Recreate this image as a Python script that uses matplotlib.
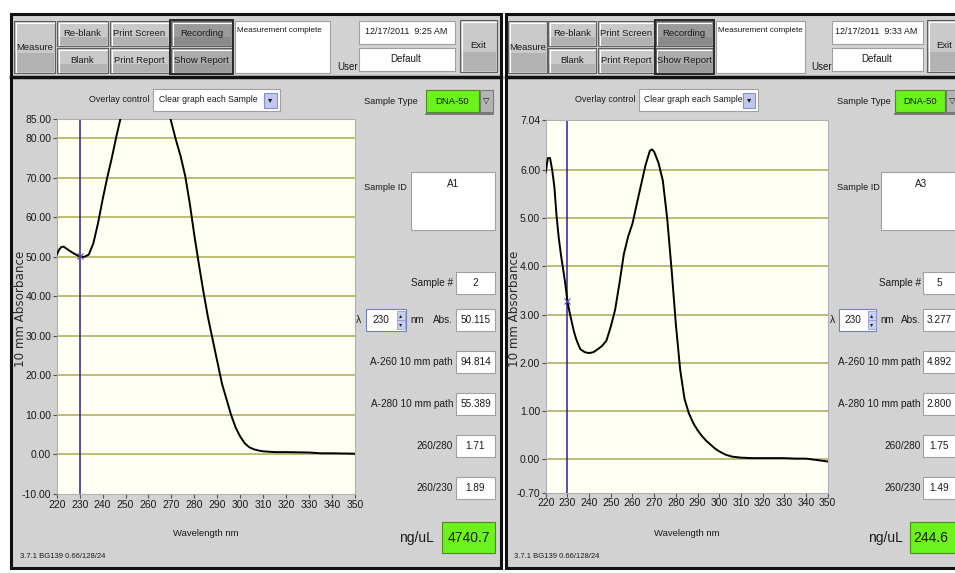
import matplotlib
matplotlib.use('Agg')
import matplotlib.pyplot as plt
from matplotlib.patches import Rectangle

W, H = 955, 573
plt.rcParams['font.family'] = ['Liberation Sans', 'DejaVu Sans']

# spectrum of sample A1 (clipped at 85 by the axis)
wl_a1 = [220, 221, 222, 223, 224, 226, 228, 230, 232, 234, 236, 238, 240, 242, 244, 246, 248,
         250, 252, 255, 258, 260, 263, 266, 268, 270, 272, 274, 276, 278, 280, 282, 284, 286,
         288, 290, 292, 294, 296, 298, 300, 302, 304, 306, 308, 310, 315, 320, 325, 330, 335,
         340, 345, 350]
abs_a1 = [50.5, 51.8, 52.5, 52.6, 52.2, 51.4, 50.7, 50.1, 50.0, 50.6, 53.5, 58.5, 64.5, 70.0,
          75.0, 80.5, 85.5, 89.0, 91.5, 93.8, 94.8, 94.8, 94.0, 91.5, 88.5, 84.0, 79.5, 75.5,
          70.5, 63.5, 55.4, 48.0, 41.0, 34.5, 29.0, 23.5, 18.0, 14.0, 10.0, 6.8, 4.5, 2.8, 1.8,
          1.3, 1.0, 0.8, 0.6, 0.6, 0.55, 0.5, 0.3, 0.3, 0.25, 0.2]

# spectrum of sample A3
wl_a3 = [220, 221, 222, 223, 224, 225, 226, 227, 228, 229, 230, 231, 232, 233, 234, 235, 236,
         238, 240, 242, 244, 246, 248, 250, 252, 254, 256, 258, 260, 262, 264, 266, 268, 269,
         270, 272, 274, 276, 278, 280, 282, 284, 286, 288, 290, 292, 294, 296, 298, 300, 303,
         306, 310, 315, 320, 325, 330, 335, 340, 345, 350]
abs_a3 = [5.95, 6.25, 6.25, 6.0, 5.65, 5.05, 4.6, 4.25, 3.95, 3.65, 3.28, 3.05, 2.85, 2.65,
          2.5, 2.38, 2.28, 2.22, 2.2, 2.22, 2.28, 2.35, 2.46, 2.75, 3.1, 3.65, 4.25, 4.62,
          4.89, 5.3, 5.7, 6.1, 6.4, 6.43, 6.38, 6.15, 5.78, 5.0, 3.95, 2.8, 1.85, 1.25, 0.95,
          0.75, 0.6, 0.48, 0.38, 0.3, 0.22, 0.16, 0.09, 0.05, 0.03, 0.02, 0.02, 0.02, 0.02,
          0.01, 0.01, -0.02, -0.05]

xticks = [220, 230, 240, 250, 260, 270, 280, 290, 300, 310, 320, 330, 340, 350]
yticks_a1 = [-10, 0, 10, 20, 30, 40, 50, 60, 70, 80, 85]
yticks_a3 = [-0.70, 0, 1, 2, 3, 4, 5, 6, 7.04]

times = ['12/17/2011  9:25 AM', '12/17/2011  9:33 AM']
sample_ids = ['A1', 'A3']
sample_nums = ['2', '5']
abs_230 = ['50.115', '3.277']
a260 = ['94.814', '4.892']
a280 = ['55.389', '2.800']
r260_280 = ['1.71', '1.75']
r260_230 = ['1.89', '1.49']
conc = ['4740.7', '244.6']

GRAY = '#d2d2d2'
GREEN = '#6cf21c'
FS = 6.8

fig = plt.figure(figsize=(W / 100, H / 100), dpi=100)
fig.patch.set_facecolor('white')
bg = fig.add_axes([0, 0, 1, 1])
bg.set_xlim(0, W)
bg.set_ylim(H, 0)
bg.axis('off')
bg.set_zorder(0)


def draw_panel(i, x0, sx, left, right, axbox, wl, ab, yticks, ylim, top_grid, vx, cx):
    def X(x):
        return x0 + (x - 14) * sx

    def box(x1, y1, x2, y2, fc, ec='#8a8a8a', lw=0.8, z=2):
        bg.add_patch(Rectangle((X(x1), y1), X(x2) - X(x1), y2 - y1, facecolor=fc,
                               edgecolor=ec, lw=lw, zorder=z))

    def txt(x, y, s, ha='left', size=FS, **kw):
        bg.text(X(x), y, s, ha=ha, va='center', fontsize=size, color='#1a1a1a', zorder=5, **kw)

    def button(x1, y1, x2, y2, label, fc='#c9c9c9', low='#b2b2b2'):
        box(x1, y1, x2, y2, fc, ec='#5e5e5e')
        box(x1 + 1, y1 + (y2 - y1) * 0.62, x2 - 1, y2 - 1, low, ec='none', lw=0)
        bg.plot([X(x1) + 1.5, X(x2) - 1.5], [y1 + 1.5, y1 + 1.5], color='white', lw=0.8, zorder=3)
        bg.plot([X(x1) + 1.5, X(x1) + 1.5], [y1 + 1.5, y2 - 1.5], color='white', lw=0.8, zorder=3)
        txt((x1 + x2) / 2, (y1 + y2) / 2, label, ha='center')

    # panel frame
    bg.add_patch(Rectangle((left, 14), right - left, 554, facecolor=GRAY,
                           edgecolor='#111111', lw=2.2, zorder=1))
    bg.plot([left, right], [77, 77], color='#111111', lw=2.5, zorder=2)

    # toolbar
    button(14, 21, 55, 73, 'Measure')
    button(57, 21, 108, 46, 'Re-blank')
    button(57, 48, 108, 73, 'Blank')
    button(110, 21, 169, 46, 'Print Screen')
    button(110, 48, 169, 73, 'Print Report')
    box(170, 20, 233, 74, 'none', ec='#2a2a2a', lw=1.4, z=4)
    button(171, 21, 232, 46, 'Recording', fc='#9a9a9a', low='#8a8a8a')
    button(171, 48, 232, 73, 'Show Report', fc='#ababab', low='#9c9c9c')
    box(235, 21, 330, 73, 'white', ec='#a0a0a0')
    txt(237, 30, 'Measurement complete', size=5.9)
    txt(337, 67, 'User', size=7)
    box(359, 21, 455, 44, 'white', ec='#a0a0a0')
    txt(406, 32, times[i], ha='center', size=6.5)
    box(359, 48, 455, 71, 'white', ec='#a0a0a0')
    txt(406, 59, 'Default', ha='center', size=7)
    button(460, 20, 497, 72, 'Exit')

    # overlay control
    txt(149, 100, 'Overlay control', ha='right', size=6.4)
    box(153, 89, 280, 111, 'white', ec='#a0a0a0')
    txt(159, 100, 'Clear graph each Sample', size=6.2)
    box(264, 93, 277, 108, '#c0c6f0', ec='#8890c8')
    txt(270.5, 100, '\u25be', ha='center', size=6, family='DejaVu Sans')

    # sample type
    txt(364, 102, 'Sample Type', size=6.7)
    box(426, 90, 479, 112, GREEN, ec='#4a8a20')
    bg.plot([X(426), X(493)], [113.5, 113.5], color='#6a6a6a', lw=1.2, zorder=3)
    txt(452.5, 101, 'DNA-50', ha='center', size=6.8)
    box(480, 90, 493, 112, '#b4b4b4', ec='#7a7a7a')
    txt(486.5, 100, '\u25bd', ha='center', size=6, family='DejaVu Sans', fontweight='bold')

    # sample id
    txt(364, 187, 'Sample ID', size=6.6)
    box(411, 172, 495, 230, 'white', ec='#a0a0a0')
    txt(453, 184, sample_ids[i], ha='center', size=7.2)

    rows = [(283, 'Sample #', sample_nums[i]),
            (320, 'Abs.', abs_230[i]),
            (362, 'A-260 10 mm path', a260[i]),
            (404, 'A-280 10 mm path', a280[i]),
            (446, '260/280', r260_280[i]),
            (488, '260/230', r260_230[i])]
    for y, label, val in rows:
        txt(453, y, label, ha='right', size=7.2)
        box(456, y - 11, 495, y + 11, 'white', ec='#a0a0a0')
        txt(vx, y, val, ha='center', size=7.2)

    txt(356, 320, '\u03bb', size=7.5)
    box(366, 309, 406, 331, 'white', ec='#7080c0')
    txt(381, 320, '230', ha='center', size=7.2)
    box(397, 311, 405, 320, '#c8d0f0', ec='#8890c8', lw=0.5)
    box(397, 320, 405, 329, '#c8d0f0', ec='#8890c8', lw=0.5)
    txt(401, 315.5, '\u25b4', ha='center', size=4.5, family='DejaVu Sans')
    txt(401, 324.5, '\u25be', ha='center', size=4.5, family='DejaVu Sans')
    txt(410, 320, 'nm', size=7)

    txt(434, 538, 'ng/uL', ha='right', size=10)
    box(442, 522, 495, 553, GREEN, ec='#4a8a20')
    txt(cx, 538, conc[i], ha='center', size=10)

    txt(20, 556, '3.7.1 BG139 0.66/128/24', size=5.5)
    bg.text(X(20.5), 309, '10 mm Absorbance', rotation=90, ha='center', va='center',
            fontsize=8.6, family='DejaVu Sans', color='#2a2a2a', zorder=5)
    bg.text((axbox[0] + axbox[2]) / 2, 533, 'Wavelength nm', ha='center', va='center',
            fontsize=6.8, color='#1a1a1a', zorder=5)

    # spectrum plot
    x1, y1, x2, y2 = axbox
    ax = fig.add_axes([x1 / W, 1 - y2 / H, (x2 - x1) / W, (y2 - y1) / H])
    ax.set_zorder(3)
    ax.set_facecolor('#fffff4')
    grid = yticks[1:] if top_grid else yticks[1:-1]
    for v in grid:
        ax.axhline(v, color='#b9b56a', lw=1.3, zorder=1)
    ax.axvline(230, color='#2e1f92', lw=1.1, zorder=2)
    ax.plot(wl, ab, color='black', lw=1.4, zorder=3)
    ax.plot(230, float(abs_230[i]), marker='x', color='#5a4ab0', ms=4, mew=0.8, zorder=4)
    ax.set_xlim(220, 350)
    ax.set_ylim(*ylim)
    ax.set_xticks(xticks)
    ax.set_yticks(yticks)
    ax.set_yticklabels(['%.2f' % v for v in yticks])
    ax.tick_params(direction='out', length=3, width=0.8, color='#505050',
                   labelsize=7.5, pad=1, labelcolor='#1a1a1a')
    for s in ax.spines.values():
        s.set_color('#b0b0b0')
        s.set_linewidth(0.8)


draw_panel(0, 14, 1.0, 11, 501, (56.7, 118.6, 355, 494), wl_a1, abs_a1, yticks_a1, (-10, 85),
           False, 475.5, 468.5)
draw_panel(1, 508, 0.94, 506, 1000, (545.7, 120, 827.7, 492.8), wl_a3, abs_a3, yticks_a3,
           (-0.70, 7.04), True, 472.5, 464)

fig.savefig('out.png', dpi=100, facecolor='white')
